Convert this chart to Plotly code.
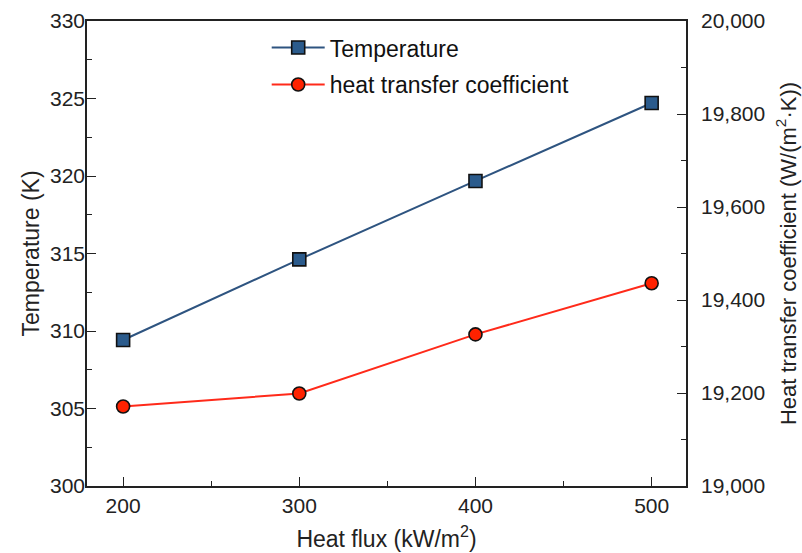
import plotly.graph_objects as go

heat_flux = [200, 300, 400, 500]
temperature = [309.42, 314.62, 319.68, 324.71]
htc = [19171, 19199, 19326, 19436]

x_ticks = [200, 300, 400, 500]
y1_ticks = [300, 305, 310, 315, 320, 325, 330]
y2_ticks = [19000, 19200, 19400, 19600, 19800, 20000]
y2_labels = ["19,000", "19,200", "19,400", "19,600", "19,800", "20,000"]

FONT = "Liberation Sans, Arial, sans-serif"

fig = go.Figure()
fig.add_trace(go.Scatter(
    x=heat_flux, y=temperature, name="Temperature", mode="lines+markers",
    legendgroup="t",
    line=dict(color="#2e5480", width=2),
    marker=dict(symbol="square", size=13, color="#2b5b8c",
                line=dict(color="#111111", width=1.6)),
    yaxis="y"))
fig.add_trace(go.Scatter(
    x=heat_flux, y=htc, name="heat transfer coefficient", mode="lines+markers",
    legendgroup="h",
    line=dict(color="#ff2a1a", width=2),
    marker=dict(symbol="circle", size=13, color="#ff2200",
                line=dict(color="#111111", width=1.6)),
    yaxis="y2"))

axis_common = dict(showline=True, linecolor="#222222", linewidth=1.6,
                   ticks="inside", ticklen=9, tickwidth=1.4, tickcolor="#222222",
                   showgrid=False, zeroline=False, automargin=False,
                   tickfont=dict(family=FONT, size=21, color="#222222"))

fig.update_layout(
    width=802, height=553,
    margin=dict(l=87, r=116, t=21, b=67),
    paper_bgcolor="white", plot_bgcolor="white",
    font=dict(family=FONT, color="#222222"),
    xaxis=dict(range=[179.5, 519.5], tickvals=x_ticks, mirror=True,
               title=dict(text="Heat flux (kW/m<sup>2</sup>)", font=dict(size=23), standoff=15),
               minor=dict(dtick=50, ticks="inside", ticklen=5, tickwidth=1.4, tickcolor="#222222"),
               **axis_common),
    yaxis=dict(range=[300, 330], tickvals=y1_ticks,
               title=dict(text="Temperature (K)", font=dict(size=23), standoff=4),
               minor=dict(dtick=2.5, ticks="inside", ticklen=5, tickwidth=1.4, tickcolor="#222222"),
               ticklabelstandoff=-4,
               **axis_common),
    yaxis2=dict(range=[19000, 20000], tickvals=y2_ticks, ticktext=y2_labels,
                overlaying="y", side="right",
                title=dict(text="Heat transfer coefficient (W/(m<sup>2</sup>·K))", font=dict(size=22), standoff=16),
                minor=dict(dtick=100, ticks="inside", ticklen=5, tickwidth=1.4, tickcolor="#222222"),
                ticklabelstandoff=9,
                **axis_common),
    legend=dict(x=0.3, y=0.989, xanchor="left", yanchor="top",
                font=dict(family=FONT, size=23, color="#111111"),
                bgcolor="rgba(0,0,0,0)", itemwidth=53, tracegroupgap=4),
    showlegend=True,
)

fig.write_html("out.html")
